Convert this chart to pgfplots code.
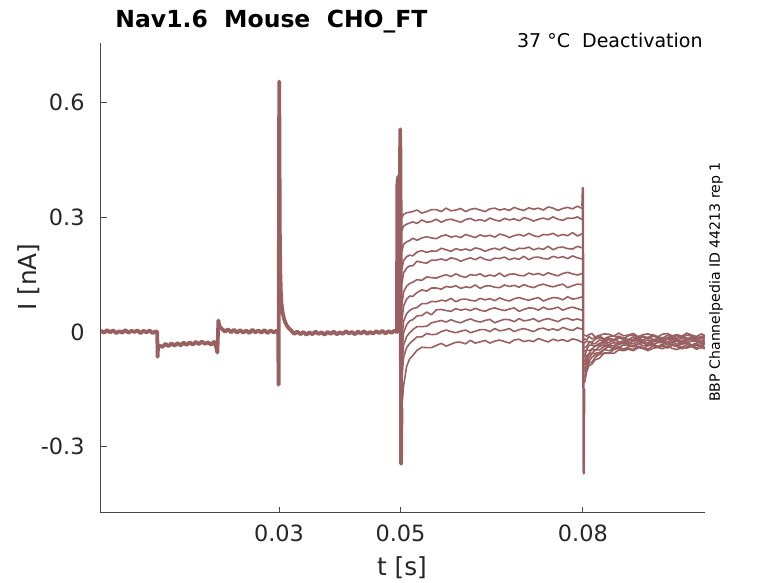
\documentclass[border=0pt]{standalone}
\usepackage{pgfplots}
\pgfplotsset{compat=1.18}
\usepackage{pgfplotstable}
\usepackage{fontspec}
\setmainfont{DejaVu Sans}
\definecolor{trc}{RGB}{152,96,96}
\definecolor{axc}{RGB}{70,70,70}
\definecolor{tkc}{RGB}{38,38,38}

% time in ms, current in pA
\pgfplotstableread{
t c1 c2 c3 c4 c5 c6 c7 c8 c9 c10 c11 c12
50.2 299 265 211 163 125 69 26 -20 -53 -88 -126 -200
50.5 308 277 229 187 155 105 68 28 -2 -34 -66 -140
51.0 312 282 236 197 167 120 86 48 19 -12 -41 -90
51.5 313 285 239 201 173 127 94 56 29 -2 -30 -70
52.0 315 288 245 199 173 130 93 61 32 6 -23 -62
52.7 319 284 240 209 185 137 103 64 42 14 -13 -48
53.5 311 293 246 213 182 135 110 74 43 14 -13 -40
54.3 315 287 249 208 180 144 107 74 52 15 -4 -41
55.1 320 289 246 212 188 142 115 80 45 24 -7 -41
55.9 320 295 244 211 188 141 115 79 58 27 -6 -35
56.7 315 287 251 219 191 146 112 83 59 30 1 -30
57.5 324 293 254 215 187 150 119 81 56 26 5 -37
58.3 317 295 248 211 194 145 117 88 54 32 1 -32
59.1 319 291 251 218 191 152 121 79 61 27 -2 -27
59.9 323 287 247 214 185 146 114 85 57 24 2 -27
60.7 315 294 255 217 190 143 118 86 60 30 5 -31
61.5 321 297 251 213 194 150 116 83 56 34 -2 -22
62.3 323 291 247 220 189 148 123 81 62 29 2 -29
63.1 319 294 254 217 196 152 114 88 57 26 6 -26
63.9 315 290 250 211 190 145 120 84 54 30 6 -22
64.7 322 298 253 216 187 149 121 87 60 33 1 -29
65.5 324 293 248 219 193 146 117 82 63 24 9 -24
66.3 319 290 256 215 192 154 116 89 59 29 3 -21
67.1 322 297 253 222 196 145 123 84 56 33 5 -25
67.9 318 293 247 216 189 151 119 81 60 32 9 -29
68.7 326 296 252 213 193 152 122 87 63 27 1 -21
69.5 321 291 255 219 190 148 117 90 54 35 6 -19
70.3 318 299 251 218 198 147 124 86 59 29 9 -25
71.1 325 296 258 222 189 154 119 83 63 31 5 -22
71.9 321 290 252 215 195 150 116 87 62 35 1 -25
72.7 324 295 249 219 196 153 122 90 57 27 8 -17
73.5 319 298 255 216 192 148 125 81 65 32 10 -22
74.3 327 294 254 224 191 155 121 86 59 35 5 -26
75.1 324 301 258 215 198 150 118 90 61 31 8 -19
75.9 318 295 251 221 194 147 122 89 65 27 4 -23
76.7 323 292 255 222 197 153 125 84 57 34 12 -20
77.5 326 298 252 218 192 156 116 92 62 36 7 -25
78.3 322 297 260 217 199 152 121 86 65 31 4 -18
79.1 329 301 251 224 194 149 125 88 61 34 11 -21
79.9 323 294 257 220 191 153 124 92 57 30 7 -27
}\steady

\pgfplotstableread{
t u1 u2 u3 u4 u5 u6 u7 u8 u9 u10 u11 u12
80.3 -8 -18 -29 -40 -50 -64 -77 -85 -96 -102 -118 -132
80.6 -11 -21 -24 -39 -47 -48 -62 -75 -84 -94 -98 -105
81.0 -7 -12 -25 -27 -35 -48 -57 -58 -68 -78 -81 -88
81.5 -4 -18 -27 -29 -34 -46 -44 -56 -57 -66 -79 -84
82.0 -13 -15 -19 -31 -38 -36 -49 -47 -56 -60 -67 -73
82.7 -9 -10 -15 -21 -30 -35 -38 -47 -54 -59 -58 -69
83.5 -5 -18 -20 -24 -24 -28 -34 -38 -45 -46 -56 -55
84.3 -6 -12 -16 -20 -28 -33 -35 -39 -38 -49 -56 -55
85.1 -11 -10 -20 -24 -20 -28 -36 -40 -45 -44 -46 -56
85.9 -3 -14 -11 -16 -25 -30 -27 -33 -40 -39 -42 -47
86.7 -10 -18 -16 -19 -27 -22 -30 -29 -34 -45 -46 -49
87.5 -8 -10 -20 -24 -21 -30 -27 -33 -35 -39 -43 -45
88.3 -4 -8 -13 -19 -22 -24 -31 -36 -39 -36 -46 -49
89.1 -12 -14 -17 -16 -18 -22 -25 -31 -30 -39 -37 -41
89.9 -7 -11 -13 -21 -25 -26 -29 -27 -36 -43 -41 -43
90.7 -5 -15 -18 -14 -21 -28 -32 -36 -34 -36 -45 -49
91.5 -9 -7 -11 -19 -23 -20 -26 -32 -30 -33 -37 -43
92.3 -13 -12 -14 -22 -16 -24 -23 -28 -38 -39 -41 -40
93.1 -6 -16 -20 -16 -25 -21 -27 -28 -32 -35 -37 -44
93.9 -4 -9 -15 -18 -19 -26 -30 -33 -30 -39 -42 -37
94.7 -10 -13 -12 -14 -18 -20 -26 -25 -34 -31 -35 -43
95.5 -7 -10 -17 -21 -22 -25 -23 -32 -38 -36 -38 -46
96.3 -11 -15 -10 -17 -24 -28 -32 -30 -31 -40 -44 -40
97.1 -3 -8 -16 -20 -17 -22 -28 -26 -29 -33 -39 -42
97.9 -8 -11 -19 -13 -21 -19 -24 -34 -35 -37 -36 -38
98.7 -12 -17 -13 -22 -18 -24 -25 -29 -32 -34 -41 -45
99.5 -5 -12 -15 -16 -23 -27 -30 -27 -36 -39 -34 -41
100.0 -9 -9 -11 -15 -17 -23 -22 -31 -28 -32 -40 -44
}\tails

\begin{document}
\begin{tikzpicture}
\useasboundingbox (-50.5pt,-35pt) rectangle (338.5pt,256.5pt);
\begin{axis}[
  width=302pt, height=235pt, scale only axis,
  xmin=0.7, xmax=100.1, ymin=-473.6, ymax=756,
  axis x line*=bottom, axis y line*=left,
  xtick={30,50,80}, xticklabels={0.03,0.05,0.08},
  ytick={-300,0,300,600}, yticklabels={-0.3,0,0.3,0.6},
  tick align=inside, major tick length=3pt,
  tick style={axc, line width=0.5pt},
  axis line style={axc, line width=0.5pt},
  tick label style={font=\fontsize{11.2}{13}\selectfont, text=tkc},
  xticklabel style={anchor=north, inner sep=0pt, yshift=-5.5pt},
  yticklabel style={anchor=east, inner sep=0pt, xshift=-8pt},
  every axis plot/.append style={line join=round, line cap=round},
]
\addplot[trc, line width=1.9pt] coordinates {
(0.7,3) (1.2,-2) (1.7,5) (2.2,-1) (2.7,4) (3.2,-3) (3.7,2) (4.2,-2) (4.7,5) (5.2,-2)
(5.7,3) (6.2,0) (6.7,4) (7.2,-3) (7.7,3) (8.2,-1) (8.7,4) (9.2,-3) (9.7,2) (9.95,0)
(10.02,-65) (10.08,-40) (10.3,-36) (10.8,-39) (11.3,-31) (11.8,-37) (12.3,-30) (12.8,-36)
(13.3,-29) (13.8,-35) (14.3,-28) (14.8,-34) (15.3,-27) (15.8,-33) (16.3,-26) (16.8,-32)
(17.3,-25) (17.8,-31) (18.3,-27) (18.8,-33) (19.3,-26) (19.6,-36) (19.85,-54)
(20.02,30) (20.1,22) (20.3,12) (20.6,8) (21.1,1) (21.6,7) (22.1,-1) (22.6,6) (23.1,-2)
(23.6,5) (24.1,-2) (24.6,4) (25.1,-3) (25.6,6) (26.1,-1) (26.6,4) (27.1,-2) (27.6,5)
(28.1,-3) (28.6,4) (29.1,-1) (29.6,3) (29.85,0)
(29.93,-138) (30.03,655) (30.08,450) (30.13,260) (30.2,160) (30.3,105) (30.4,75)
(30.6,50) (30.8,36) (31.0,26) (31.3,16) (31.6,10) (32.0,4)
(32.5,-5) (33.0,1) (33.5,-6) (34.0,0) (34.5,-7) (35.0,-1) (35.5,-6) (36.0,1) (36.5,-5)
(37.0,-1) (37.5,-7) (38.0,0) (38.5,-5) (39.0,1) (39.5,-6) (40.0,-1) (40.5,-5) (41.0,2)
(41.5,-4) (42.0,0) (42.5,-6) (43.0,1) (43.5,-4) (44.0,2) (44.5,-5) (45.0,0) (45.5,-4)
(46.0,2) (46.5,-3) (47.0,3) (47.5,-4) (48.0,2) (48.5,-2) (49.0,3) (49.4,0)
(49.48,390) (49.6,405) (49.7,398) (49.8,410) (49.9,402) (49.95,530) (50.02,300)
(50.08,-345) (50.15,-200)
};
\pgfplotsinvokeforeach{1,...,12}{
  \addplot[trc, line width=0.8pt] table[x=t, y=c#1] {\steady};
}
\addplot[trc, line width=1.2pt] coordinates {
(79.92,330) (80.00,377) (80.07,0) (80.14,-370) (80.22,-150)
};
\pgfplotsinvokeforeach{1,...,12}{
  \addplot[trc, line width=0.8pt] table[x=t, y=u#1] {\tails};
}
\end{axis}
\node[anchor=base west, inner sep=0pt, font=\bfseries\fontsize{11.75}{14}\selectfont]
  at (7pt,242.5pt) {Nav1.6\ \ Mouse\ \ CHO\_FT};
\node[anchor=base east, inner sep=0pt, font=\fontsize{9.5}{11}\selectfont]
  at (301pt,232.5pt) {37 °C\ \ Deactivation};
\node[rotate=90, anchor=center, inner sep=0pt, font=\fontsize{7.06}{8}\selectfont]
  at (307.5pt,115.5pt) {BBP Channelpedia ID 44213 rep 1};
\node[anchor=base, inner sep=0pt, text=tkc, font=\fontsize{12.4}{14}\selectfont]
  at (150.5pt,-31.5pt) {t [s]};
\node[rotate=90, anchor=base, inner sep=0pt, text=tkc, font=\fontsize{12.4}{14}\selectfont]
  at (-32pt,118pt) {I [nA]};
\end{tikzpicture}
\end{document}
